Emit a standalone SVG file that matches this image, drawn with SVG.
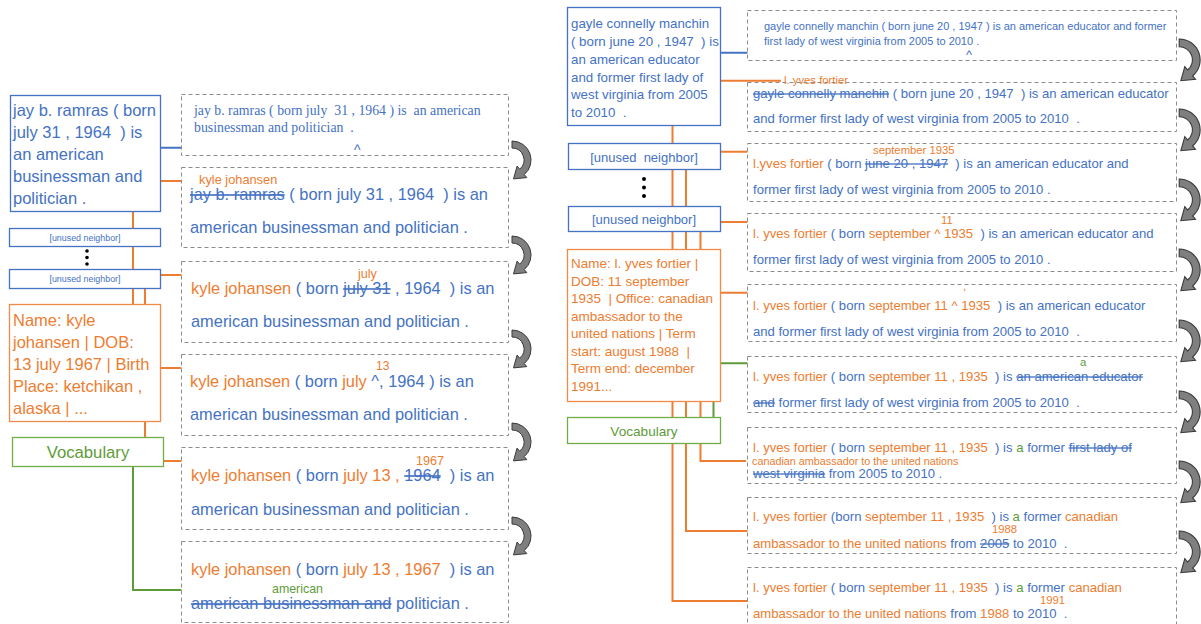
<svg xmlns="http://www.w3.org/2000/svg" width="1201" height="624" viewBox="0 0 1201 624">
<style>
text{font-family:"Liberation Sans",Arial,sans-serif}
.serif{font-family:"Liberation Serif","Times New Roman",serif}
.b{fill:#4472C4}.o{fill:#ED7D31}.g{fill:#5E9C3A}
.s{text-decoration:line-through}
.dash{fill:#fff;stroke:#8c8c8c;stroke-width:1;stroke-dasharray:4 3}
.nb{fill:#fff;stroke:#4472C4;stroke-width:1.3}
.no{fill:#fff;stroke:#F08A4B;stroke-width:1.3}
.ng{fill:#fff;stroke:#70AD47;stroke-width:1.3}
.lb{fill:none;stroke:#4472C4;stroke-width:2}
.lo{fill:none;stroke:#ED7D31;stroke-width:2}
.lg{fill:none;stroke:#5E9C3A;stroke-width:2}
.arr{fill:#7f7f7f;stroke:#3a3a3a;stroke-width:1}
.L{font-size:16.4px}
.R{font-size:13.1px}
.lab{font-size:12.8px}
.labr{font-size:11.3px}
</style>
<defs>
<path id="carrow" d="M2,0 A19,19 0 0 1 14.2,33.6 L16.8,36.6 L3.5,37.9 L7.1,25.1 L9.7,28.2 A12,12 0 0 0 2,7 Z"/>
</defs>

<!-- connectors -->
<g id="connectors">
<path class="lo" d="M133,212 V304"/>
<path class="lo" d="M145,289 V437"/>
<path class="lb" d="M161,147.7 H347"/>
<path class="lo" d="M150,181 H193"/>
<path class="lo" d="M150,275 H353"/>
<path class="lo" d="M150,368 H370"/>
<path class="lo" d="M150,461 H408"/>
<path class="lg" d="M133,467 V590 H264"/>

<path class="lb" d="M700,52.7 H963"/>
<path class="lo" d="M700,80.7 H781"/>
<path class="lo" d="M672.5,126 V601 H1036"/>
<path class="lo" d="M700,151.7 H866"/>
<path class="lo" d="M686,170 V531 H988"/>
<path class="lo" d="M700,222 H938"/>
<path class="lo" d="M700.5,232 V461 H746"/>
<path class="lo" d="M700,292.7 H956"/>
<path class="lg" d="M713.5,417 V363.3 H1074"/>
</g>

<!-- left nodes -->
<g id="node-jay">
<rect class="nb" x="10.5" y="95.5" width="150" height="116"/>
<text class="b" font-size="16.5" x="13" y="116">jay b. ramras ( born</text>
<text class="b" font-size="16.5" x="13" y="138" xml:space="preserve">july 31 , 1964  ) is</text>
<text class="b" font-size="16.5" x="13" y="160">an american</text>
<text class="b" font-size="16.5" x="13" y="182">businessman and</text>
<text class="b" font-size="16.5" x="13" y="204">politician .</text>
</g>
<g id="node-unused-l1">
<rect class="nb" x="9.5" y="228.5" width="151" height="18"/>
<text class="b" font-size="8.9" x="85" y="240.5" text-anchor="middle">[unused neighbor]</text>
</g>
<g id="dots-l">
<circle cx="87" cy="251" r="1.8" fill="#000"/>
<circle cx="87" cy="257.5" r="1.8" fill="#000"/>
<circle cx="87" cy="264" r="1.8" fill="#000"/>
</g>
<g id="node-unused-l2">
<rect class="nb" x="9.5" y="269.5" width="151" height="19"/>
<text class="b" font-size="8.9" x="85" y="282" text-anchor="middle">[unused neighbor]</text>
</g>
<g id="node-kyle">
<rect class="no" x="9.5" y="304.5" width="151" height="117"/>
<text class="o" font-size="16.5" x="13" y="326">Name: kyle</text>
<text class="o" font-size="16.5" x="13" y="348">johansen | DOB:</text>
<text class="o" font-size="16.5" x="13" y="370">13 july 1967 | Birth</text>
<text class="o" font-size="16.5" x="13" y="392">Place: ketchikan ,</text>
<text class="o" font-size="16.5" x="13" y="414">alaska | ...</text>
</g>
<g id="node-vocab-l">
<rect class="ng" x="12.5" y="437.5" width="151" height="29"/>
<text class="g" font-size="16.7" x="88" y="458" text-anchor="middle">Vocabulary</text>
</g>

<!-- left steps -->
<g id="step-l1">
<rect class="dash" x="181.5" y="94.5" width="327" height="61"/>
<text class="serif b" font-size="13.8" x="194" y="115" xml:space="preserve">jay b. ramras ( born july  31 , 1964 ) is  an american</text>
<text class="serif b" font-size="13.8" x="194" y="132" xml:space="preserve">businessman and politician  .</text>
<text class="b" font-size="14" x="354" y="155">^</text>
</g>
<g id="step-l2">
<rect class="dash" x="181.5" y="167.5" width="327" height="80"/>
<text class="o lab" x="199" y="184">kyle johansen</text>
<text class="L b" x="190" y="200" xml:space="preserve"><tspan class="s">jay b. ramras</tspan> ( born july 31 , 1964  ) is an</text>
<text class="L b" x="190" y="233">american businessman and politician .</text>
</g>
<g id="step-l3">
<rect class="dash" x="181.5" y="261.5" width="327" height="81"/>
<text class="o" font-size="12.6" x="358" y="278">july</text>
<text class="L b" x="191" y="294" xml:space="preserve"><tspan class="o">kyle johansen</tspan> ( born <tspan class="s">july 31</tspan> , 1964  ) is an</text>
<text class="L b" x="191" y="327">american businessman and politician .</text>
</g>
<g id="step-l4">
<rect class="dash" x="181.5" y="354.5" width="327" height="81"/>
<text class="o" font-size="12" x="376" y="370">13</text>
<text class="L b" x="190" y="387" xml:space="preserve"><tspan class="o">kyle johansen</tspan> ( born <tspan class="o">july</tspan> ^, 1964 ) is an</text>
<text class="L b" x="190" y="420">american businessman and politician .</text>
</g>
<g id="step-l5">
<rect class="dash" x="181.5" y="447.5" width="327" height="82"/>
<text class="o" font-size="12.6" x="416" y="465">1967</text>
<text class="L b" x="191" y="481" xml:space="preserve"><tspan class="o">kyle johansen</tspan> ( born <tspan class="o">july 13 , </tspan><tspan class="s">1964</tspan>  ) is an</text>
<text class="L b" x="191" y="515">american businessman and politician .</text>
</g>
<g id="step-l6">
<rect class="dash" x="181.5" y="541.5" width="327" height="81"/>
<text class="g" font-size="12.4" x="272" y="593">american</text>
<text class="L b" x="191" y="575" xml:space="preserve"><tspan class="o">kyle johansen</tspan> ( born <tspan class="o">july 13 , 1967</tspan>  ) is an</text>
<text class="L b" x="191" y="609" xml:space="preserve"><tspan class="s">american businessman and</tspan> politician .</text>
</g>
<g id="arrows-l">
<use href="#carrow" class="arr" x="510" y="141"/>
<use href="#carrow" class="arr" x="510" y="236"/>
<use href="#carrow" class="arr" x="510" y="330"/>
<use href="#carrow" class="arr" x="510" y="423"/>
<use href="#carrow" class="arr" x="510" y="517"/>
</g>

<!-- right nodes -->
<g id="node-gayle">
<rect class="nb" x="567.5" y="7.5" width="153" height="118"/>
<text class="b" font-size="13.3" x="571" y="28">gayle connelly manchin</text>
<text class="b" font-size="13.3" x="571" y="46" xml:space="preserve">( born june 20 , 1947  ) is</text>
<text class="b" font-size="13.3" x="571" y="64">an american educator</text>
<text class="b" font-size="13.3" x="571" y="82">and former first lady of</text>
<text class="b" font-size="13.3" x="571" y="99">west virginia from 2005</text>
<text class="b" font-size="13.3" x="571" y="117" xml:space="preserve">to 2010  .</text>
</g>
<g id="node-unused-r1">
<rect class="nb" x="568.5" y="143.5" width="152" height="26"/>
<text class="b" font-size="13" x="644" y="162" text-anchor="middle" xml:space="preserve">[unused  neighbor]</text>
</g>
<g id="dots-r">
<circle cx="644" cy="179" r="2" fill="#000"/>
<circle cx="644" cy="187.5" r="2" fill="#000"/>
<circle cx="644" cy="196" r="2" fill="#000"/>
</g>
<g id="node-unused-r2">
<rect class="nb" x="568.5" y="206.5" width="152" height="25"/>
<text class="b" font-size="13" x="644" y="224" text-anchor="middle">[unused neighbor]</text>
</g>
<g id="node-yves">
<rect class="no" x="567.5" y="249.5" width="153" height="152"/>
<text class="o" font-size="13.5" x="571" y="268">Name: l. yves fortier |</text>
<text class="o" font-size="13.5" x="571" y="285.5">DOB: 11 september</text>
<text class="o" font-size="13.5" x="571" y="303" xml:space="preserve">1935  | Office: canadian</text>
<text class="o" font-size="13.5" x="571" y="320.5">ambassador to the</text>
<text class="o" font-size="13.5" x="571" y="338">united nations | Term</text>
<text class="o" font-size="13.5" x="571" y="355.5" xml:space="preserve">start: august 1988  |</text>
<text class="o" font-size="13.5" x="571" y="373">Term end: december</text>
<text class="o" font-size="13.5" x="571" y="390.5">1991...</text>
</g>
<g id="node-vocab-r">
<rect class="ng" x="567.5" y="417.5" width="153" height="26"/>
<text class="g" font-size="13.6" x="644" y="436" text-anchor="middle">Vocabulary</text>
</g>

<!-- right steps -->
<g id="step-r1">
<rect class="dash" x="747.5" y="10.5" width="429" height="50"/>
<text class="b" font-size="11" x="764" y="30">gayle connelly manchin ( born june 20 , 1947 ) is an american educator and former</text>
<text class="b" font-size="11" x="764" y="45">first lady of west virginia from 2005 to 2010 .</text>
<text class="b" font-size="13" x="966" y="59">^</text>
</g>
<g id="step-r2">
<rect class="dash" x="747.5" y="82.5" width="429" height="49"/>
<text class="o labr" x="784" y="84">l. yves fortier</text>
<text class="R b" x="753" y="98" xml:space="preserve"><tspan class="s">gayle connelly manchin</tspan> ( born june 20 , 1947  ) is an american educator</text>
<text class="R b" x="753" y="123" xml:space="preserve">and former first lady of west virginia from 2005 to 2010  .</text>
</g>
<g id="step-r3">
<rect class="dash" x="747.5" y="143.5" width="429" height="58"/>
<text class="o labr" x="873" y="154">september 1935</text>
<text class="R b" x="753" y="168" xml:space="preserve"><tspan class="o">l.yves fortier</tspan> ( born <tspan class="s">june 20 , 1947</tspan>  ) is an american educator and</text>
<text class="R b" x="753" y="194">former first lady of west virginia from 2005 to 2010 .</text>
</g>
<g id="step-r4">
<rect class="dash" x="747.5" y="213.5" width="429" height="58"/>
<text class="o labr" x="941" y="224">11</text>
<text class="R b" x="753" y="238" xml:space="preserve"><tspan class="o">l. yves fortier</tspan> ( born <tspan class="o">september ^ 1935</tspan>  ) is an american educator and</text>
<text class="R b" x="753" y="264">former first lady of west virginia from 2005 to 2010 .</text>
</g>
<g id="step-r5">
<rect class="dash" x="747.5" y="284.5" width="429" height="57"/>
<text class="o labr" x="963" y="290">,</text>
<text class="R b" x="753" y="310" xml:space="preserve"><tspan class="o">l. yves fortier</tspan> ( born <tspan class="o">september 11 ^ 1935</tspan>  ) is an american educator</text>
<text class="R b" x="753" y="336" xml:space="preserve">and former first lady of west virginia from 2005 to 2010  .</text>
</g>
<g id="step-r6">
<rect class="dash" x="747.5" y="356.5" width="429" height="56"/>
<text class="g labr" x="1080" y="366">a</text>
<text class="R b" x="753" y="381" xml:space="preserve"><tspan class="o">l. yves fortier</tspan> ( born <tspan class="o">september 11 , 1935</tspan>  ) is <tspan class="s">an american educator</tspan></text>
<text class="R b" x="753" y="407" xml:space="preserve"><tspan class="s">and</tspan> former first lady of west virginia from 2005 to 2010  .</text>
</g>
<g id="step-r7">
<rect class="dash" x="747.5" y="427.5" width="429" height="56"/>
<text class="R b" x="753" y="452" xml:space="preserve"><tspan class="o">l. yves fortier</tspan> ( born <tspan class="o">september 11 , 1935</tspan>  ) is <tspan class="g">a</tspan> former <tspan class="s">first lady of</tspan></text>
<text class="o" font-size="10.8" x="752" y="465">canadian ambassador to the united nations</text>
<text class="R b" x="753" y="478" xml:space="preserve"><tspan class="s">west virginia</tspan> from 2005 to 2010 .</text>
</g>
<g id="step-r8">
<rect class="dash" x="747.5" y="497.5" width="429" height="56"/>
<text class="o labr" x="992" y="533">1988</text>
<text class="R b" x="753" y="521" xml:space="preserve"><tspan class="o">l. yves fortier</tspan> (born <tspan class="o">september 11 , 1935</tspan>  ) is <tspan class="g">a</tspan> former <tspan class="o">canadian</tspan></text>
<text class="R b" x="753" y="548" xml:space="preserve"><tspan class="o">ambassador to the united nations</tspan> from <tspan class="s">2005</tspan> to 2010  .</text>
</g>
<g id="step-r9">
<rect class="dash" x="747.5" y="567.5" width="429" height="64"/>
<text class="o labr" x="1040" y="604">1991</text>
<text class="R b" x="753" y="592" xml:space="preserve"><tspan class="o">l. yves fortier</tspan> ( born <tspan class="o">september 11 , 1935</tspan>  ) is <tspan class="g">a</tspan> former <tspan class="o">canadian</tspan></text>
<text class="R b" x="753" y="618" xml:space="preserve"><tspan class="o">ambassador to the united nations</tspan> from <tspan class="o">1988</tspan> to 2010  .</text>
</g>
<g id="arrows-r">
<use href="#carrow" class="arr" transform="translate(1177,39) scale(1.1)"/>
<use href="#carrow" class="arr" transform="translate(1177,109) scale(1.1)"/>
<use href="#carrow" class="arr" transform="translate(1177,179) scale(1.1)"/>
<use href="#carrow" class="arr" transform="translate(1177,249) scale(1.1)"/>
<use href="#carrow" class="arr" transform="translate(1177,320) scale(1.1)"/>
<use href="#carrow" class="arr" transform="translate(1177,391) scale(1.1)"/>
<use href="#carrow" class="arr" transform="translate(1177,461) scale(1.1)"/>
<use href="#carrow" class="arr" transform="translate(1177,531) scale(1.1)"/>
</g>
</svg>
